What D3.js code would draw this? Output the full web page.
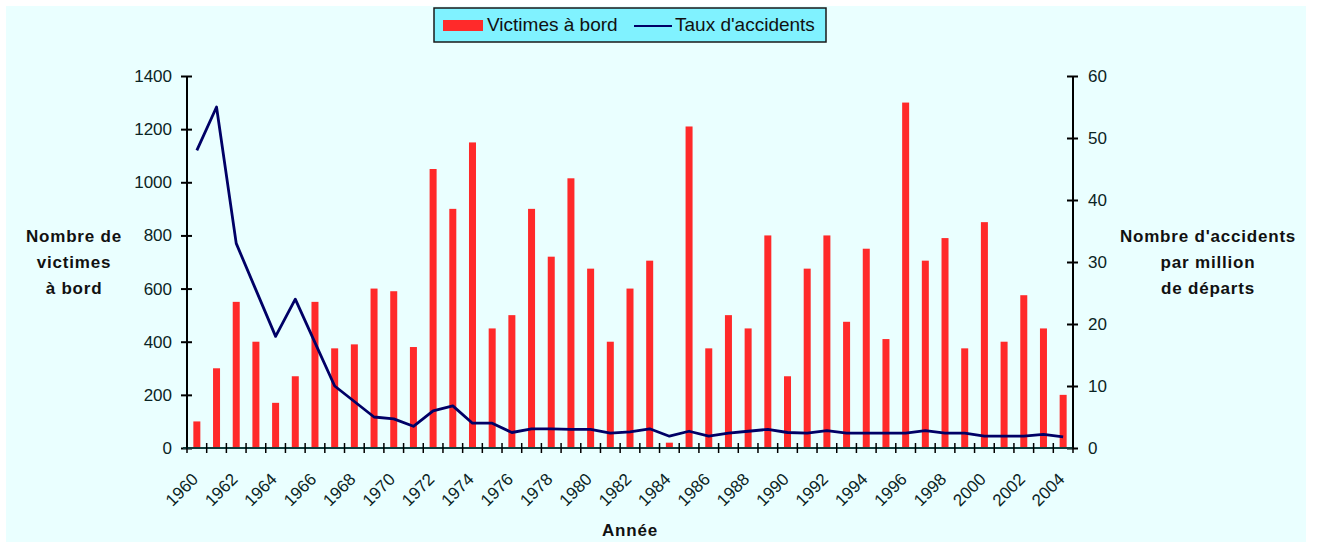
<!DOCTYPE html>
<html>
<head>
<meta charset="UTF-8">
<title>Victimes à bord et taux d'accidents</title>
<script src="https://d3js.org/d3.v7.min.js"></script>
<style>
body { margin: 0; background: #ffffff; }
svg text { font-family: "Liberation Sans", Arial, sans-serif; }
</style>
</head>
<body>
<div id="chart"></div>
<script>
// data
const years = d3.range(1960, 2005);
const victimes = [100, 300, 550, 400, 170, 270, 550, 375, 390, 600,
  590, 380, 1050, 900, 1150, 450, 500, 900, 720, 1015,
  675, 400, 600, 705, 20, 1210, 375, 500, 450, 800,
  270, 675, 800, 475, 750, 410, 1300, 705, 790, 375,
  850, 400, 575, 450, 200];
const taux = [48, 55, 33, 25.5, 18, 24, 17, 10, 7.5, 5,
  4.7, 3.5, 6, 6.8, 4, 4, 2.5, 3.1, 3.1, 3,
  3, 2.4, 2.6, 3.1, 1.9, 2.7, 1.9, 2.4, 2.7, 3,
  2.5, 2.4, 2.8, 2.4, 2.4, 2.4, 2.4, 2.8, 2.4, 2.4,
  1.9, 1.9, 1.9, 2.2, 1.8];
const leftTicks = [0, 200, 400, 600, 800, 1000, 1200, 1400];
const rightTicks = [0, 10, 20, 30, 40, 50, 60];
const yearLabels = d3.range(1960, 2005, 2);

const W = 1317, H = 542;
const plot = {left: 187, right: 1073, top: 76, bottom: 448};

const svg = d3.select("#chart").append("svg")
  .attr("width", W).attr("height", H);

// light cyan panel
svg.append("rect")
  .attr("x", 6).attr("y", 6).attr("width", 1300).attr("height", 536)
  .attr("fill", "#eaffff");

const x = d3.scaleBand().domain(years).range([plot.left, plot.right]);
const yL = d3.scaleLinear().domain([0, 1400]).range([plot.bottom, plot.top]);
const yR = d3.scaleLinear().domain([0, 60]).range([plot.bottom, plot.top]);

const tickCol = "#0b2424";

// bars
svg.append("g").selectAll("rect")
  .data(years)
  .join("rect")
    .attr("x", (d) => x(d) + x.bandwidth() / 2 - 3.5)
    .attr("width", 7)
    .attr("y", (d, i) => yL(victimes[i]))
    .attr("height", (d, i) => plot.bottom - yL(victimes[i]))
    .attr("fill", "#ff2a2a");

// line
svg.append("path")
  .datum(years)
  .attr("fill", "none")
  .attr("stroke", "#000066")
  .attr("stroke-width", 2.8)
  .attr("stroke-linejoin", "round")
  .attr("d", d3.line()
    .x((d) => x(d) + x.bandwidth() / 2)
    .y((d, i) => yR(taux[i])));

// left axis
const gL = svg.append("g")
  .attr("transform", `translate(${plot.left},0)`)
  .call(d3.axisLeft(yL).tickValues(leftTicks).tickFormat(d3.format("d")).tickSize(5).tickPadding(10));
gL.selectAll(".tick line").attr("x2", 5).attr("x1", -6).attr("stroke", "#000").attr("stroke-width", 2);
gL.select(".domain").attr("stroke", "#000").attr("stroke-width", 2).attr("d", `M0,${plot.top}V${plot.bottom}`);
gL.selectAll(".tick text").attr("font-size", 17).attr("fill", tickCol);

// right axis
const gR = svg.append("g")
  .attr("transform", `translate(${plot.right},0)`)
  .call(d3.axisRight(yR).tickValues(rightTicks).tickSize(5).tickPadding(10));
gR.selectAll(".tick line").attr("x1", -6).attr("x2", 5).attr("stroke", "#000").attr("stroke-width", 2);
gR.select(".domain").attr("stroke", "#000").attr("stroke-width", 2).attr("d", `M0,${plot.top}V${plot.bottom}`);
gR.selectAll(".tick text").attr("font-size", 17).attr("fill", tickCol);

// x axis: line with a crossing tick at each band edge
const gX = svg.append("g");
gX.append("line")
  .attr("x1", plot.left - 4).attr("x2", plot.right)
  .attr("y1", plot.bottom).attr("y2", plot.bottom)
  .attr("stroke", "#103c3c").attr("stroke-width", 2);
gX.selectAll("line.tk")
  .data(years.concat([2005]))
  .join("line")
    .attr("class", "tk")
    .attr("x1", (d) => d === 2005 ? plot.right : x(d))
    .attr("x2", (d) => d === 2005 ? plot.right : x(d))
    .attr("y1", plot.bottom - 5).attr("y2", plot.bottom + 5)
    .attr("stroke", "#000").attr("stroke-width", 1.5);
gX.selectAll("text")
  .data(yearLabels)
  .join("text")
    .attr("transform", (d) => `translate(${x(d) + x.bandwidth() / 2 - 6},${plot.bottom + 24}) rotate(-45)`)
    .attr("text-anchor", "end")
    .attr("dy", "0.7em")
    .attr("font-size", 17)
    .attr("fill", tickCol)
    .text((d) => d);

// axis titles
const bold = (sel) => sel.attr("font-weight", "bold").attr("font-size", 17).attr("fill", "#111")
  .attr("letter-spacing", 0.8);

const tl = svg.append("text").attr("text-anchor", "middle").call(bold);
["Nombre de", "victimes", "à bord"].forEach((t, i) => {
  tl.append("tspan").attr("x", 74).attr("y", 242 + i * 26).text(t);
});
const tr = svg.append("text").attr("text-anchor", "middle").call(bold);
["Nombre d'accidents", "par million", "de départs"].forEach((t, i) => {
  tr.append("tspan").attr("x", 1208).attr("y", 242 + i * 26).text(t);
});
svg.append("text").attr("x", 630).attr("y", 536).attr("text-anchor", "middle").call(bold).text("Année");

// legend
const lg = svg.append("g");
lg.append("rect")
  .attr("x", 434).attr("y", 8).attr("width", 392).attr("height", 34)
  .attr("fill", "#80f2ff").attr("stroke", "#1a1a1a").attr("stroke-width", 1.5);
lg.append("rect")
  .attr("x", 443).attr("y", 20).attr("width", 40).attr("height", 11)
  .attr("fill", "#ff2a2a");
lg.append("text").attr("x", 487).attr("y", 31).attr("font-size", 19).attr("fill", "#111")
  .text("Victimes à bord");
lg.append("line")
  .attr("x1", 634).attr("x2", 672).attr("y1", 26).attr("y2", 26)
  .attr("stroke", "#000066").attr("stroke-width", 2);
lg.append("text").attr("x", 675).attr("y", 31).attr("font-size", 19).attr("fill", "#111")
  .text("Taux d'accidents");
</script>
</body>
</html>
